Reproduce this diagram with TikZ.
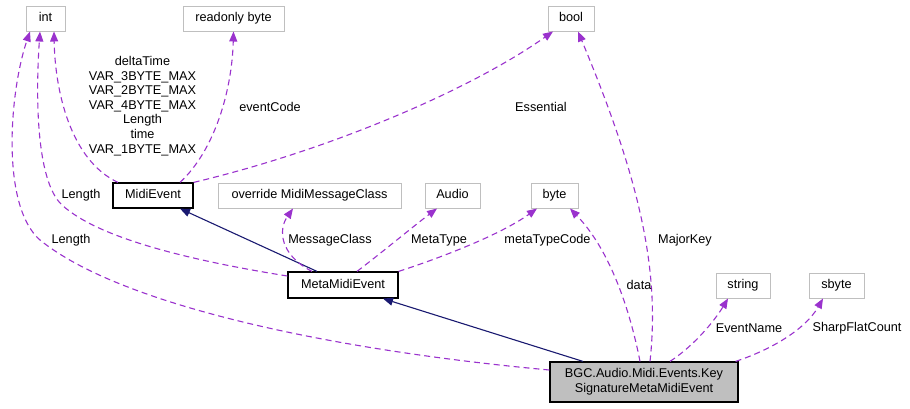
\documentclass[tikz,border=0pt]{standalone}
\usepackage{fontspec}
\setmainfont{Liberation Sans}
\usetikzlibrary{arrows.meta}
\definecolor{dxpurple}{HTML}{9A32CD}
\definecolor{dxnavy}{HTML}{191970}
\definecolor{dxgray}{HTML}{BFBFBF}
\begin{document}
\begin{tikzpicture}[x=1pt,y=-1pt,
  every node/.style={font=\fontsize{12.7}{14.6}\selectfont, inner sep=0pt},
  ext/.style={draw=dxgray, line width=1pt, minimum height=25pt, text height=9.2pt, text depth=2.6pt},
  cls/.style={draw=black, line width=1.2pt, minimum height=25pt, text height=9.2pt, text depth=2.6pt},
  mainbox/.style={draw=black, fill=dxgray, line width=1.2pt, minimum height=40pt, minimum width=188pt, align=center},
  use/.style={draw=dxpurple, line width=1.1pt, dash pattern=on 6pt off 4pt, -{Triangle[length=10pt,width=8pt]}},
  inh/.style={draw=dxnavy, line width=1.1pt, -{Triangle[length=10pt,width=8pt]}},
  lbl/.style={align=center}]
\useasboundingbox (0,0) rectangle (910,408);

\node[ext, minimum width=39pt] (int) at (45.5,18.5) {int};
\node[ext, minimum width=101pt] (ro) at (233.5,18.5) {readonly byte};
\node[ext, minimum width=46pt] (bool) at (571,18.5) {bool};
\node[cls, minimum width=80pt] (midi) at (153,195.5) {MidiEvent};
\node[ext, minimum width=183pt] (ovr) at (309.5,195.5) {override MidiMessageClass};
\node[ext, minimum width=55pt] (audio) at (452.5,195.5) {Audio};
\node[ext, minimum width=47pt] (byte) at (554.5,195.5) {byte};
\node[cls, minimum width=110pt, minimum height=26pt] (meta) at (343,285) {MetaMidiEvent};
\node[ext, minimum width=54pt] (string) at (743,285.5) {string};
\node[ext, minimum width=55pt] (sbyte) at (836.5,285.5) {sbyte};
\node[mainbox] (main) at (644,382) {BGC.Audio.Midi.Events.Key\\SignatureMetaMidiEvent};

% inheritance
\draw[inh] ([xshift=-26pt]meta.north) -- ([xshift=27pt]midi.south);
\draw[inh] ([xshift=-61pt]main.north) -- ([xshift=40pt]meta.south);

% usage
\draw[use] ([xshift=-35pt]midi.north) .. controls (70,160) and (55,90) .. ([xshift=8.5pt]int.south);
\draw[use] ([xshift=27pt]midi.north) .. controls (215,150) and (232,90) .. (ro.south);
\draw[use] (midi.north east) .. controls (330,150) and (470,90) .. ([xshift=-18pt]bool.south);
\draw[use] ([yshift=9pt]meta.west) .. controls (200,262) and (100,240) .. (62,205) .. controls (35,180) and (36,90) .. ([xshift=-5.5pt]int.south);
\draw[use] ([yshift=12pt]main.west) .. controls (330,350) and (120,305) .. (40,240) .. controls (0,205) and (10,90) .. ([xshift=-15.5pt]int.south);
\draw[use] ([xshift=-31pt]meta.north) .. controls (280,255) and (278,230) .. ([xshift=-16.5pt]ovr.south);
\draw[use] ([xshift=14pt]meta.north) .. controls (385,250) and (415,225) .. ([xshift=-15.5pt]audio.south);
\draw[use] (meta.north east) .. controls (440,258) and (500,235) .. ([xshift=-17.5pt]byte.south);
\draw[use] ([xshift=-4pt]main.north) .. controls (630,310) and (610,250) .. ([xshift=15.5pt]byte.south);
\draw[use] ([xshift=6pt]main.north) .. controls (660,270) and (640,180) .. ([xshift=7pt]bool.south);
\draw[use] ([xshift=26pt]main.north) .. controls (695,345) and (715,320) .. ([xshift=-15pt]string.south);
\draw[use] ([xshift=-3pt]main.north east) .. controls (770,350) and (805,330) .. ([xshift=-13.5pt]sbyte.south);

% labels
\node[lbl] (l1) at (142.5,106) {deltaTime\\VAR\_3BYTE\_MAX\\VAR\_2BYTE\_MAX\\VAR\_4BYTE\_MAX\\Length\\time\\VAR\_1BYTE\_MAX};
\node (l2) at (270,107) {eventCode};
\node (l3) at (541,107) {Essential};
\node (l4) at (81,195) {Length};
\node (l5) at (71,240) {Length};
\node (l6) at (330,240) {MessageClass};
\node (l7) at (439,240) {MetaType};
\node (l8) at (547.5,240) {metaTypeCode};
\node (l9) at (685,240) {MajorKey};
\node (l10) at (639,285) {data};
\node (l11) at (749,328) {EventName};
\node (l12) at (857,328) {SharpFlatCount};
\end{tikzpicture}
\end{document}
